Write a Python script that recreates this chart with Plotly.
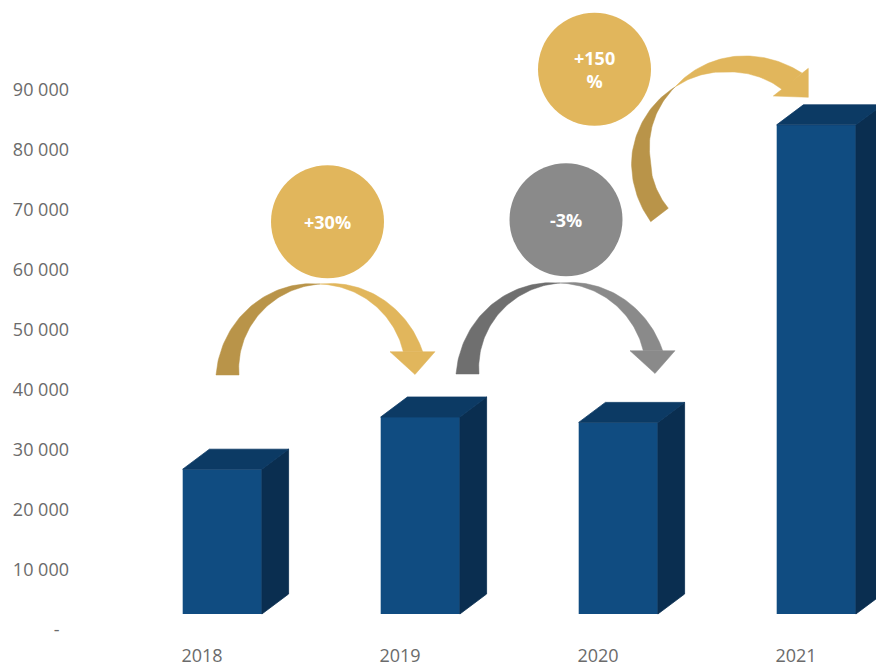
import numpy as np
import plotly.graph_objects as go

# ---- data -------------------------------------------------------------
years = ["2018", "2019", "2020", "2021"]
revenue = [26800, 35500, 34600, 84200]
change_labels = ["+30%", "-3%", "+150<br>%"]
y_tick_values = list(range(0, 90001, 10000))
y_tick_text = ["-\u00a0\u00a0" if v == 0 else f"{v:,}".replace(",", " ") for v in y_tick_values]

# ---- page / axis geometry --------------------------------------------
W, H = 876, 666
M_L, M_R, M_T, M_B = 80, 0, 0, 26
PLOT_BOTTOM_PX = H - M_B
CAT0_PX, CAT_STEP_PX = 202, 198          # pixel centre of first category, spacing
ZERO_PX, PX_PER_UNIT = 630, 0.006        # y pixel of value 0, pixels per unit

x_range = [(M_L - CAT0_PX) / CAT_STEP_PX, (W - M_R - CAT0_PX) / CAT_STEP_PX]
y_range = [(ZERO_PX - PLOT_BOTTOM_PX) / PX_PER_UNIT, (ZERO_PX - M_T) / PX_PER_UNIT]

# ---- 3D column styling ------------------------------------------------
FRONT_LEFT = -0.0975     # front face left edge relative to category
BAR_W = 0.40
DEPTH_X = 26.7 / CAT_STEP_PX
DEPTH_Y = 20 / PX_PER_UNIT
FLOOR = 16 / PX_PER_UNIT
C_FRONT, C_TOP, C_SIDE = "#104C81", "#0C3A64", "#0A2E50"

GOLD, GOLD_DARK = "#E1B65C", "#B99449"
GREY, GREY_DARK = "#8A8A8A", "#6F6F6F"
FONT = "Open Sans"
TICK_COLOR = "#6b6b6b"

fig = go.Figure()

# front faces
fig.add_trace(go.Bar(
    x=[i + FRONT_LEFT + BAR_W / 2 for i in range(len(years))],
    y=[v - FLOOR for v in revenue],
    base=FLOOR,
    width=BAR_W,
    marker=dict(color=C_FRONT, line=dict(width=0)),
    hoverinfo="skip",
    showlegend=False,
))

# top and side faces
top_x, top_y, side_x, side_y = [], [], [], []
for i, v in enumerate(revenue):
    xl = i + FRONT_LEFT
    xr = xl + BAR_W
    top_x += [xl, xl + DEPTH_X, xr + DEPTH_X, xr, xl, None]
    top_y += [v, v + DEPTH_Y, v + DEPTH_Y, v, v, None]
    side_x += [xr, xr, xr + DEPTH_X, xr + DEPTH_X, xr, None]
    side_y += [FLOOR, v, v + DEPTH_Y, FLOOR + DEPTH_Y, FLOOR, None]

for xs, ys, col in [(side_x, side_y, C_SIDE), (top_x, top_y, C_TOP)]:
    fig.add_trace(go.Scatter(
        x=xs, y=ys, mode="lines", fill="toself", fillcolor=col,
        line=dict(width=0.8, color=col), hoverinfo="skip", showlegend=False,
    ))


# ---- curved callout arrows (drawn on a pixel overlay) -----------------
def _interp(keys, th):
    ks = sorted(keys)
    angs = [k[0] for k in ks]
    rads = [k[1] for k in ks]
    return np.interp(th, angs, rads)


def band(cx, cy, outer, inner, n=60):
    """Ribbon between two radius profiles around (cx, cy); angles in degrees."""
    o0, o1 = outer[0][0], outer[-1][0]
    i0, i1 = inner[0][0], inner[-1][0]
    to = np.linspace(o0, o1, n)
    ti = np.linspace(i1, i0, n)
    ro = _interp(outer, to)
    ri = _interp(inner, ti)
    xs = np.concatenate([cx + ro * np.cos(np.radians(to)), cx + ri * np.cos(np.radians(ti))])
    ys = np.concatenate([cy - ro * np.sin(np.radians(to)), cy - ri * np.sin(np.radians(ti))])
    return list(xs) + [xs[0]], list(ys) + [ys[0]]


def add_poly(xs, ys, col):
    fig.add_trace(go.Scatter(
        x=xs, y=ys, xaxis="x2", yaxis="y2", mode="lines", fill="toself",
        fillcolor=col, line=dict(width=0.5, color=col),
        hoverinfo="skip", showlegend=False,
    ))


def small_arrow(dx, dy, light, dark):
    cx, cy = 320 + dx, 375 + dy
    add_poly(*band(cx, cy, [(180, 104), (90, 91)], [(180, 81), (90, 91)]), dark)
    add_poly(*band(cx, cy, [(90, 91), (12.8, 105.3)], [(90, 91), (15.6, 86.5)]), light)
    add_poly([390 + dx, 435 + dx, 415 + dx, 390 + dx],
             [351.7 + dy, 351.7 + dy, 374.5 + dy, 351.7 + dy], light)


small_arrow(0, 0, GOLD, GOLD_DARK)
small_arrow(240, -1, GREY, GREY_DARK)

# large arrow towards the last column
cx, cy = 730, 157
add_poly(*band(cx, cy, [(219.2, 102.3), (180, 98.3), (128.2, 89)],
               [(219.7, 80.2), (180, 80), (128.2, 89)]), GOLD_DARK)
add_poly(*band(cx, cy, [(128.2, 89), (90, 100), (49.4, 110.6)],
               [(128.2, 89), (90, 85), (51.7, 85.4)]), GOLD)
add_poly([808.3, 808.3, 773.3, 808.3], [68.3, 97.3, 96, 68.3], GOLD)

# ---- change bubbles ---------------------------------------------------
bubbles = [(327.5, 221.7, GOLD), (566, 219.7, GREY), (594.5, 69.3, GOLD)]
R = 56.5
shapes = []
annotations = []
for (bx, by, col), txt in zip(bubbles, change_labels):
    shapes.append(dict(type="circle", xref="x2", yref="y2",
                       x0=bx - R, x1=bx + R, y0=by - R, y1=by + R,
                       fillcolor=col, line=dict(width=0), layer="above"))
    annotations.append(dict(x=bx, y=by, xref="x2", yref="y2", text=txt,
                            showarrow=False,
                            font=dict(family=FONT, size=18, color="white", weight=700)))

fig.update_layout(
    width=W, height=H,
    margin=dict(l=M_L, r=M_R, t=M_T, b=M_B),
    paper_bgcolor="white", plot_bgcolor="white",
    showlegend=False,
    shapes=shapes,
    annotations=annotations,
    xaxis=dict(range=x_range, tickvals=list(range(len(years))), ticktext=years,
               showgrid=False, zeroline=False, showline=False, ticks="",
               ticklabelstandoff=3, automargin=False,
               tickfont=dict(family=FONT, size=18, color=TICK_COLOR), fixedrange=True),
    yaxis=dict(range=y_range, tickvals=y_tick_values, ticktext=y_tick_text,
               showgrid=False, zeroline=False, showline=False, ticks="",
               ticklabelstandoff=10, automargin=False,
               tickfont=dict(family=FONT, size=18, color=TICK_COLOR), fixedrange=True),
    xaxis2=dict(range=[M_L, W - M_R], overlaying="x", visible=False, fixedrange=True),
    yaxis2=dict(range=[PLOT_BOTTOM_PX, M_T], overlaying="y", visible=False, fixedrange=True),
)

fig.write_html("out.html")
